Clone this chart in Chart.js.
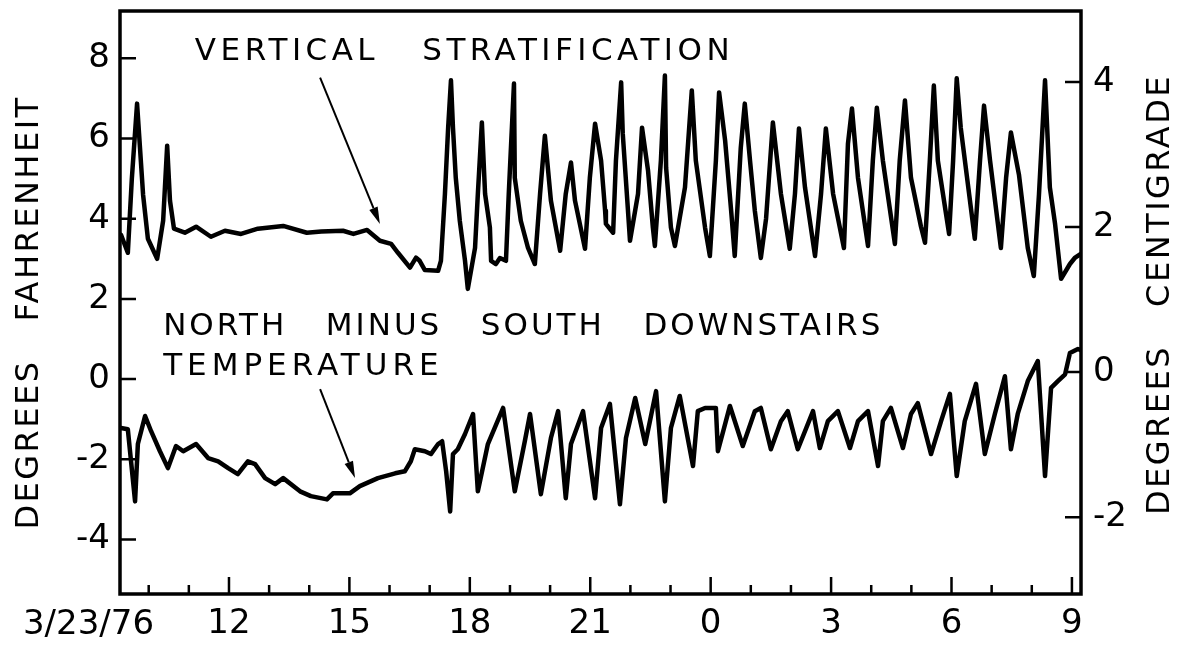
<!DOCTYPE html>
<html lang="en">
<head>
  <meta charset="UTF-8">
  <title>Vertical Stratification / North minus South Temperature</title>
  <script src="https://cdn.jsdelivr.net/npm/chart.js"></script>
  <style>
    body { margin: 0; background: #ffffff; }
    canvas { display: block; }
  </style>
</head>
<body>
  <canvas id="tempChart" width="1186" height="646"></canvas>

  <script>
    // hours counted from midnight of 3/23/76 (24 = midnight, 33 = 9 next morning)
    const stratHours = [
      9.31, 9.48, 9.58, 9.71, 9.86, 9.98, 10.21, 10.36, 10.46, 10.53, 10.63, 10.90, 11.18, 11.55, 11.90,
      12.30, 12.72, 13.35, 13.94, 14.30, 14.84, 15.10, 15.44, 15.76, 16.04, 16.21, 16.51, 16.66, 16.75, 16.88,
      17.21, 17.28, 17.38, 17.46, 17.53, 17.58, 17.65, 17.75, 17.88, 17.95, 18.13, 18.20, 18.30, 18.38, 18.50,
      18.53, 18.65, 18.75, 18.90, 18.97, 19.10, 19.12, 19.27, 19.45, 19.62, 19.75, 19.87, 20.02, 20.25, 20.39,
      20.52, 20.62, 20.87, 20.99, 21.12, 21.27, 21.37, 21.39, 21.57, 21.64, 21.77, 21.81, 21.94, 21.99, 22.19,
      22.29, 22.44, 22.56, 22.61, 22.76, 22.86, 22.89, 23.01, 23.11, 23.36, 23.53, 23.63, 23.86, 23.98, 24.13,
      24.21, 24.36, 24.51, 24.60, 24.75, 24.85, 24.98, 25.10, 25.25, 25.38, 25.55, 25.75, 25.97, 26.10, 26.20,
      26.35, 26.60, 26.75, 26.87, 27.05, 27.32, 27.42, 27.52, 27.67, 27.92, 28.04, 28.14, 28.29, 28.59, 28.71,
      28.84, 28.99, 29.24, 29.34, 29.46, 29.56, 29.66, 29.94, 30.04, 30.13, 30.23, 30.58, 30.71, 30.81, 30.96,
      31.23, 31.36, 31.48, 31.68, 31.90, 32.05, 32.18, 32.33, 32.45, 32.58, 32.73, 32.95, 33.07, 33.22
    ];
    const stratDegF = [
      3.6, 3.15, 5.0, 6.87, 4.6, 3.5, 3.0, 3.95, 5.82, 4.45, 3.75, 3.65, 3.8, 3.55, 3.7,
      3.62, 3.75, 3.82, 3.65, 3.68, 3.7, 3.62, 3.72, 3.45, 3.37, 3.15, 2.78, 3.03, 2.95, 2.72,
      2.7, 2.95, 4.62, 6.27, 7.45, 6.27, 5.02, 3.95, 2.95, 2.25, 3.27, 4.62, 6.4, 4.62, 3.78,
      2.95, 2.87, 3.02, 2.95, 4.62, 7.37, 5.02, 3.95, 3.27, 2.87, 4.62, 6.07, 4.45, 3.2, 4.62,
      5.4, 4.45, 3.25, 5.02, 6.37, 5.45, 4.2, 3.87, 3.65, 5.45, 7.4, 6.12, 4.2, 3.45, 4.62,
      6.27, 5.2, 3.78, 3.32, 5.45, 7.57, 5.27, 3.78, 3.32, 4.78, 7.2, 5.45, 3.78, 3.07, 5.45,
      7.15, 5.95, 4.2, 3.07, 5.77, 6.87, 5.45, 4.2, 3.02, 4.0, 6.4, 4.62, 3.25, 4.62, 6.25,
      4.78, 3.07, 4.62, 6.25, 4.62, 3.27, 5.87, 6.75, 5.02, 3.32, 5.45, 6.77, 5.45, 3.37, 5.45,
      6.95, 5.02, 3.8, 3.4, 5.45, 7.32, 5.45, 3.62, 5.45, 7.5, 6.27, 3.5, 5.45, 6.82, 5.45,
      3.27, 5.02, 6.15, 5.1, 3.27, 2.57, 4.62, 7.45, 4.78, 3.87, 2.5, 2.87, 3.02, 3.12
    ];

    const nsHours = [
      9.31, 9.48, 9.56, 9.66, 9.73, 9.91, 10.06, 10.28, 10.48, 10.68, 10.86, 11.18, 11.48, 11.73, 11.98,
      12.22, 12.47, 12.65, 12.90, 13.15, 13.35, 13.77, 14.04, 14.44, 14.59, 15.01, 15.26, 15.71, 16.14, 16.38,
      16.53, 16.63, 16.88, 17.03, 17.21, 17.31, 17.41, 17.51, 17.58, 17.70, 17.88, 18.08, 18.20, 18.45, 18.83,
      19.12, 19.37, 19.50, 19.77, 20.02, 20.20, 20.39, 20.52, 20.82, 21.12, 21.27, 21.49, 21.74, 21.89, 22.12,
      22.37, 22.64, 22.86, 23.01, 23.23, 23.56, 23.68, 23.86, 24.13, 24.18, 24.48, 24.80, 25.10, 25.25, 25.50,
      25.75, 25.92, 26.17, 26.55, 26.72, 26.92, 27.17, 27.47, 27.67, 27.92, 28.17, 28.29, 28.49, 28.79, 28.99,
      29.16, 29.49, 29.74, 29.96, 30.13, 30.33, 30.61, 30.83, 31.08, 31.33, 31.48, 31.65, 31.90, 32.15, 32.33,
      32.48, 32.65, 32.83, 32.95, 33.15, 33.22
    ];
    const nsDegF = [
      -1.22, -1.25, -2.05, -3.05, -1.62, -0.92, -1.3, -1.8, -2.22, -1.67, -1.8, -1.62, -1.97, -2.05, -2.22,
      -2.37, -2.05, -2.12, -2.47, -2.62, -2.47, -2.8, -2.92, -3.0, -2.85, -2.85, -2.67, -2.47, -2.35, -2.3,
      -2.05, -1.75, -1.8, -1.87, -1.62, -1.55, -2.3, -3.3, -1.87, -1.75, -1.37, -0.87, -2.8, -1.62, -0.72,
      -2.8, -1.55, -0.87, -2.87, -1.47, -0.8, -2.97, -1.62, -0.8, -2.97, -1.22, -0.62, -3.12, -1.47, -0.47,
      -1.62, -0.3, -3.05, -1.22, -0.42, -2.17, -0.8, -0.72, -0.72, -1.8, -0.67, -1.67, -0.8, -0.72, -1.75,
      -1.05, -0.8, -1.75, -0.8, -1.72, -1.05, -0.8, -1.72, -1.05, -0.8, -2.17, -1.05, -0.72, -1.72, -0.87,
      -0.6, -1.87, -1.05, -0.37, -2.42, -1.05, -0.12, -1.87, -0.87, 0.07, -1.75, -0.87, -0.05, 0.45, -2.42,
      -0.22, -0.05, 0.12, 0.65, 0.75, 0.72
    ];

    const xTickHours = [12, 15, 18, 21, 24, 27, 30, 33];
    const xTickLabels = ['12', '15', '18', '21', '0', '3', '6', '9'];
    const dateLabel = '3/23/76';
    const fahrenheitTicks = [-4, -2, 0, 2, 4, 6, 8];
    const centigradeTicks = [-2, 0, 2, 4];

    const FONT = '"DejaVu Sans", "Liberation Sans", sans-serif';
    const INK = '#000000';

    const hourTicks = [];
    for (let h = 10; h <= 33; h++) hourTicks.push(h);

    const notes = [
      { text: 'VERTICAL   STRATIFICATION', h: 11.15, f: 8.15, spacing: 4.5 },
      { text: 'NORTH   MINUS   SOUTH   DOWNSTAIRS', h: 10.36, f: 1.3, spacing: 3 },
      { text: 'TEMPERATURE', h: 10.36, f: 0.3, spacing: 5 }
    ];
    const arrows = [
      { from: [14.27, 7.52], to: [15.76, 3.87] },
      { from: [14.27, -0.25], to: [15.14, -2.47] }
    ];

    // frame, inward tick marks, labels and arrows
    const decorations = {
      id: 'decorations',
      afterDraw(chart) {
        const { ctx, chartArea: a, scales } = chart;
        const x = scales.x, yF = scales.yF;
        ctx.save();
        ctx.strokeStyle = INK;
        ctx.fillStyle = INK;
        ctx.lineCap = 'butt';

        ctx.lineWidth = 3.5;
        ctx.strokeRect(a.left, a.top, a.right - a.left, a.bottom - a.top);

        ctx.lineWidth = 2.5;
        ctx.beginPath();
        fahrenheitTicks.forEach(v => {
          const py = yF.getPixelForValue(v);
          ctx.moveTo(a.left, py); ctx.lineTo(a.left + 16, py);
        });
        centigradeTicks.forEach(v => {
          const py = scales.yC.getPixelForValue(v);
          ctx.moveTo(a.right, py); ctx.lineTo(a.right - 16, py);
        });
        hourTicks.forEach(h => {
          const px = x.getPixelForValue(h);
          const len = xTickHours.includes(h) ? 17 : 9;
          ctx.moveTo(px, a.bottom); ctx.lineTo(px, a.bottom - len);
        });
        ctx.stroke();

        // date under the left end of the time axis
        ctx.font = '34px ' + FONT;
        ctx.textAlign = 'center';
        ctx.textBaseline = 'middle';
        ctx.fillText(dateLabel, x.getPixelForValue(8.5), a.bottom + 31);

        // axis titles, both read bottom to top
        ctx.font = '32px ' + FONT;
        ctx.letterSpacing = '2.5px';
        const mid = (a.top + a.bottom) / 2;
        [[30, mid + 10, 'DEGREES   FAHRENHEIT'], [1161, mid - 8, 'DEGREES   CENTIGRADE']].forEach(([tx, ty, t]) => {
          ctx.save();
          ctx.translate(tx, ty);
          ctx.rotate(-Math.PI / 2);
          ctx.fillText(t, 0, 0);
          ctx.restore();
        });

        // annotations
        ctx.font = '31px ' + FONT;
        ctx.textAlign = 'left';
        notes.forEach(n => {
          ctx.letterSpacing = n.spacing + 'px';
          ctx.fillText(n.text, x.getPixelForValue(n.h), yF.getPixelForValue(n.f));
        });
        ctx.letterSpacing = '0px';

        ctx.lineWidth = 2;
        arrows.forEach(ar => {
          const x0 = x.getPixelForValue(ar.from[0]), y0 = yF.getPixelForValue(ar.from[1]);
          const x1 = x.getPixelForValue(ar.to[0]), y1 = yF.getPixelForValue(ar.to[1]);
          const ang = Math.atan2(y1 - y0, x1 - x0);
          const headLen = 17, headW = 4.5;
          const bx = x1 - headLen * Math.cos(ang), by = y1 - headLen * Math.sin(ang);
          ctx.beginPath();
          ctx.moveTo(x0, y0); ctx.lineTo(bx, by);
          ctx.stroke();
          ctx.beginPath();
          ctx.moveTo(x1, y1);
          ctx.lineTo(bx + headW * Math.sin(ang), by - headW * Math.cos(ang));
          ctx.lineTo(bx - headW * Math.sin(ang), by + headW * Math.cos(ang));
          ctx.closePath();
          ctx.fill();
        });
        ctx.restore();
      }
    };

    const traceStyle = {
      borderColor: INK,
      borderWidth: 4.5,
      pointRadius: 0,
      tension: 0,
      fill: false,
      borderJoinStyle: 'round',
      borderCapStyle: 'round'
    };

    // keep label overhang from pushing the plot box around
    const noOverhangX = s => { s.height = 52; s.paddingLeft = 0; s.paddingRight = 0; };
    const noOverhangY = w => s => { s.width = w; s.paddingTop = 0; s.paddingBottom = 0; };

    new Chart(document.getElementById('tempChart'), {
      type: 'line',
      data: {
        datasets: [
          Object.assign({
            label: 'Vertical stratification',
            data: stratHours.map((h, i) => ({ x: h, y: stratDegF[i] })),
            yAxisID: 'yF'
          }, traceStyle),
          Object.assign({
            label: 'North minus south downstairs temperature',
            data: nsHours.map((h, i) => ({ x: h, y: nsDegF[i] })),
            yAxisID: 'yF'
          }, traceStyle)
        ]
      },
      options: {
        responsive: false,
        animation: false,
        layout: { padding: { top: 11, left: 0, right: 0, bottom: 0 } },
        plugins: {
          legend: { display: false },
          tooltip: { enabled: false }
        },
        scales: {
          x: {
            type: 'linear',
            min: 9.285,
            max: 33.226,
            grid: { display: false, drawTicks: false },
            border: { display: false },
            afterBuildTicks: s => { s.ticks = xTickHours.map(v => ({ value: v })); },
            afterFit: noOverhangX,
            ticks: {
              color: INK,
              font: { family: FONT, size: 34 },
              padding: 10,
              maxRotation: 0,
              autoSkip: false,
              callback: v => xTickLabels[xTickHours.indexOf(v)]
            }
          },
          yF: {
            type: 'linear',
            position: 'left',
            min: -5.36,
            max: 9.18,
            grid: { display: false, drawTicks: false },
            border: { display: false },
            afterBuildTicks: s => { s.ticks = fahrenheitTicks.map(v => ({ value: v })); },
            afterFit: noOverhangY(120),
            ticks: { color: INK, font: { family: FONT, size: 34 }, padding: 10 }
          },
          yC: {
            type: 'linear',
            position: 'right',
            min: -3.06,
            max: 4.98,
            grid: { display: false, drawTicks: false },
            border: { display: false },
            afterBuildTicks: s => { s.ticks = centigradeTicks.map(v => ({ value: v })); },
            afterFit: noOverhangY(105),
            ticks: { color: INK, font: { family: FONT, size: 34 }, padding: 12 }
          }
        }
      },
      plugins: [decorations]
    });
  </script>
</body>
</html>
